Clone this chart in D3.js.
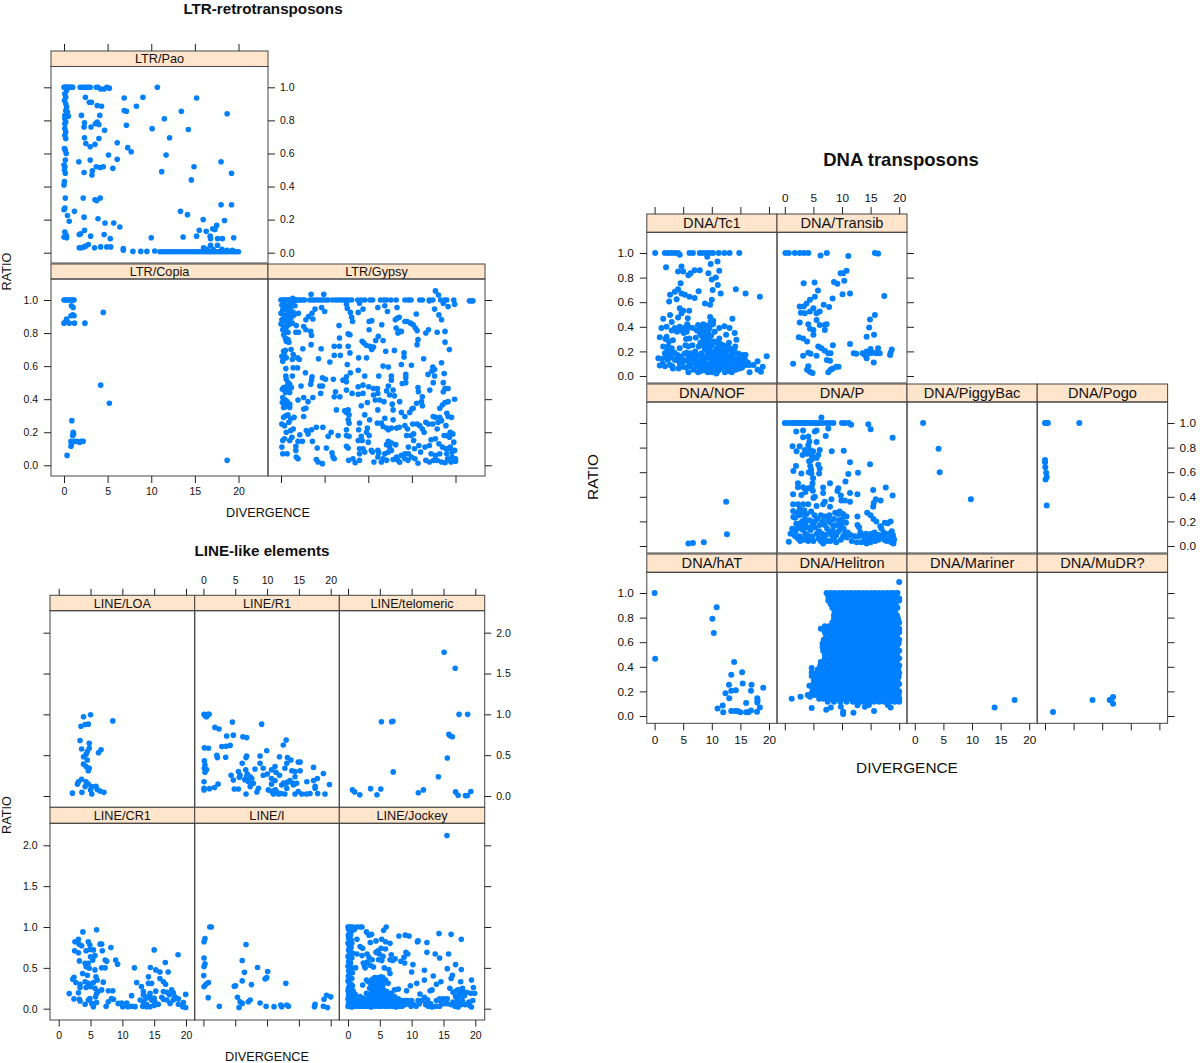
<!DOCTYPE html>
<html>
<head>
<meta charset="utf-8">
<title>Transposon divergence vs ratio</title>
<script src="https://cdnjs.cloudflare.com/ajax/libs/d3/7.8.5/d3.min.js"></script>
<style>
body { margin: 0; background: #fff; }
svg { display: block; }
text { font-family: "Liberation Sans", Arial, sans-serif; fill: #111; }
</style>
</head>
<body>
<div id="chart"></div>
<script>
// values, [divergence, ratio]
const ltrPao = [[0,1],[.1,1],[.2,1],[.3,1],[.4,1],[.5,1],[.6,1],[.7,1],[.9,1],[1,1],[1.85,1],[2.1,1],[2.4,1],[2.6,1],[2.8,1],[3,1],[3.7,1],[3.9,1],[4.2,.99],[4.6,.99],[4.9,1],[5.2,.995],
[.3,.98],[.1,.96],[.2,.94],[.05,.92],[.2,.9],[.3,.88],[.2,.86],[.4,.85],[.1,.83],[.5,.825],[.1,.81],[.2,.79],[.1,.78],[.1,.75],[.2,.73],[.1,.71],[.2,.69],[.05,.63],[.15,.62],[.25,.6],[.15,.56],[0,.53],[.1,.52],[.05,.5],[.15,.48],[.05,.43],[0,.41],[.15,.33],[.1,.27],[0,.26],
[2.45,.94],[2.9,.91],[3.15,.91],[3.8,.89],[4.3,.885],[2,.83],[4.1,.83],[2.35,.785],[2.3,.76],[3.1,.76],[3.6,.78],[3.8,.79],[4,.775],[4.65,.74],[2.35,.695],[4,.69],[2.5,.66],[3,.64],[3.55,.655],[6.1,.665],[5.1,.59],[6.1,.565],[1.7,.55],[3,.56],[3.25,.495],[3.7,.52],[4.15,.515],[4.5,.52],[5.6,.51],[2.3,.485],[3.2,.47],[2.2,.33],[3.55,.32],[3.75,.315],[4.15,.33],[1.2,.25],[.4,.225],[.6,.19],[2.3,.215],[3.9,.205],[4.7,.18],[5.7,.18],[6.4,.155],[.1,.125],[0,.095],[.3,.09],[.25,.105],[1.75,.11],[1.9,.115],[2.35,.135],[3.05,.1],[4.6,.11],[5.3,.085],
[1.75,.03],[2,.03],[2.3,.035],[2.5,.04],[2.8,.05],[3.5,.03],[4.2,.035],[4.9,.035],[5.35,.035],[6.8,.025],[6.8,.015],[7.9,.008],[8.8,.008],[9.5,.008],[10.4,.01],[11,.006],[11.3,.006],[11.6,.006],[11.9,.006],[12.2,.006],[12.5,.006],[12.8,.006],[13.1,.006],[13.4,.006],[13.7,.006],[14,.006],[14.3,.006],[14.6,.006],[14.9,.006],[15.2,.006],[15.5,.006],[15.8,.006],[16.1,.006],[16.4,.006],[16.7,.006],[17,.006],[17.3,.006],[17.6,.006],[17.9,.006],[18.2,.006],[18.5,.006],[18.8,.006],[19.1,.006],[19.4,.006],[19.7,.006],[20,.006],
[6.9,.935],[9.05,.94],[10.7,1],[15.2,.935],[6.9,.86],[7.15,.855],[8.3,.885],[13.45,.855],[18.7,.84],[11.5,.81],[7.15,.77],[10.1,.75],[14.25,.745],[12.1,.695],[7.3,.635],[7.7,.61],[11.7,.59],[18,.55],[14.9,.52],[11.2,.49],[19.2,.48],[14.6,.44],[18,.29],[19.2,.29],[13.35,.25],[14.15,.23],[15.95,.2],[18.4,.195],[17.5,.165],[17.3,.14],[17.05,.145],[15.5,.135],[16.3,.13],[10,.09],[13.65,.095],[15.2,.1],[16.75,.1],[16.8,.085],[17.6,.085],[18.15,.085],[19.45,.09],[16.8,.045],[17.6,.045],[16,.03],[16.4,.02],[17.1,.02],[18.1,.02],[18.7,.015],[19.3,.015]];

const ltrCopia = [[0,1],[.15,1],[.3,1],[.5,1],[.7,1],[.9,1],[1.05,1],[1.15,1],[.85,.965],[1.05,.955],[1,.91],[1.15,.905],[.8,.905],[0,.86],[.2,.87],[.3,.885],[.6,.86],[1.2,.86],[2.4,.86],[4.5,.925],[4.2,.485],[5.2,.375],[.9,.27],[1.05,.2],[1.1,.19],[1,.18],[.8,.145],[.85,.13],[.8,.115],[1.2,.145],[1.5,.145],[1.8,.14],[2,.145],[2.2,.145],[.35,.06],[18.7,.03]];

const ltrGypsy = [[0,1],[.15,1],[.3,1],[.45,1],[.6,1],[.75,1],[.9,1],[1.05,1],[1.2,1],[1.35,1.01],[1.5,1],[1.65,1],[1.8,1],[2,1],[2.2,1],[2.45,1],[2.7,1],[3.3,1],[3.6,1],[3.9,1],[4.2,1],[4.5,1],[4.8,1],[5.1,1],[5.4,1],[5.9,1],[6.3,1],[6.6,1],[6.9,1],[7.2,1],[7.5,1],[7.8,1],[8.1,1],[8.8,1],[9.2,1],[9.6,1],[10.2,1],[10.5,1],[11.4,1],[11.8,1],[12.1,1],[12.6,1],[13.2,1],[14.2,1],[14.6,1],[14.9,1],[15.9,1],[16.2,1],[17,1],[17.4,1],[18.3,1],[18.8,1],[19,1],[19.8,1],[21.6,.995],[21.8,.995],[22,.995],
[.1,.97],[.4,.975],[.7,.96],[1,.97],[1.3,.98],[1.6,.965],[.2,.94],[.5,.95],[.8,.93],[1.1,.945],[1.4,.925],[0,.92],[.3,.91],[.6,.9],[.9,.915],[1.2,.895],[1.5,.91],[.1,.88],[.4,.875],[.7,.865],[1,.885],[1.3,.86],[0,.855],[.3,.84],[.6,.835],[.9,.85],[.5,.815],[.2,.82],[.8,.805],[.3,.79],[.5,.77],[.6,.75],[.9,.745],[.8,.76],[.3,.69],[.5,.695],[1.15,.7],[1.4,.67],[.1,.66],[.4,.665],[.6,.65],[1.3,.64],[1.9,.65],[2.1,.64],[.2,.63],[.55,.585],[1.4,.59],[1.9,.59],[.55,.54],[.6,.52],[1.3,.54],[.8,.5],[.3,.47],[.6,.475],[1,.49],[1.2,.47],[.15,.46],[.5,.44],[.8,.455],[1,.44],[.2,.41],[.5,.395],[.15,.38],[.4,.37],[.7,.385],[1,.37],[.3,.35],[.6,.355],[1,.35],[.55,.3],[.3,.29],[.8,.305],[1.1,.28],[1.5,.29],[.9,.26],[.1,.25],[.4,.24],[.6,.2],[1.1,.21],[1.4,.22],[.2,.15],[.4,.16],[1,.15],[1.25,.17],[.1,.11],[.2,.07],[.7,.07],[1.7,.09],
[3.45,1.035],[4.9,1.035],[17.7,1.055],[18.05,1.03],[3.9,.945],[4.65,.955],[5,.93],[3.55,.92],[3.15,.9],[2.85,.88],[3.65,.885],[2,.92],[2.6,.84],[2.85,.82],[3.4,.81],[3.5,.785],[1.7,.805],[2,.805],[1.75,.845],[6.65,.845],[7.7,.795],[7.9,.79],[6.7,.77],[7.5,.975],[7.6,.95],[7.95,.925],[8.1,.895],[8.2,.87],[8.85,.925],[9.4,.945],[9,.98],[11.1,.955],[11.9,.965],[12.2,.93],[11.55,.85],[10.1,.87],[10.4,.875],[10.1,.82],[13.3,.955],[13.1,.88],[13.3,.89],[13.55,.895],[13.2,.83],[13.6,.81],[13.8,.81],[13.4,.8],[14.2,.87],[14.45,.87],[14.85,.86],[15.15,.85],[15.4,.83],[15.6,.815],[15.5,.915],[17,.995],[17.6,.945],[18.1,.91],[18.4,.88],[18.6,.98],[19.15,.96],[19.9,.975],[16.9,.82],[16.6,.8],[17.9,.805],[18.8,.81],[18.8,.745],[19.3,.7],[18.4,.62],[18.7,.555],[17.4,.595],[18.6,.5],
[15.7,.76],[15.6,.73],[14.1,.68],[14.1,.655],[16.35,.645],[13,.695],[12,.69],[9.3,.75],[9.5,.74],[9.8,.725],[10.2,.72],[10.4,.7],[10.6,.715],[10.85,.755],[11.15,.78],[11.7,.755],[6.1,.72],[6.7,.72],[7.7,.72],[7.9,.68],[6.1,.665],[6.8,.665],[5.6,.625],[8.9,.65],[9.8,.65],[7.6,.61],[2.5,.705],[4.6,.705],[3.45,.73],[4.3,.645],[13.8,.61],[14.95,.605],[11.7,.6],[12.3,.595],
[2.8,.56],[3.55,.535],[3.5,.515],[3.4,.49],[4.75,.53],[5.1,.52],[6,.52],[7.5,.535],[7.1,.515],[7.5,.505],[7.95,.56],[8.85,.575],[9.6,.54],[11.2,.54],[12.65,.54],[12.65,.515],[14.3,.55],[14.3,.53],[13.9,.495],[14.3,.5],[16.85,.55],[17.3,.57],[17.6,.58],[17.6,.54],[17.45,.5],[2.3,.48],[4.45,.48],[4.75,.48],[4.55,.435],[6.25,.445],[6.1,.415],[6.75,.415],[7.5,.455],[8.15,.435],[8.85,.475],[9.4,.485],[8.85,.43],[9.4,.435],[10.05,.475],[10.6,.465],[11.05,.465],[10.6,.425],[11.1,.435],[10.8,.395],[11.3,.395],[11.8,.385],[12.3,.48],[12.1,.45],[12.45,.425],[12.85,.455],[13,.42],[15.7,.47],[15.75,.445],[17.05,.455],[18.6,.445],[19.15,.465],[18.8,.465],[19.9,.4],
[2.6,.41],[1.95,.395],[3.1,.385],[3.65,.41],[9.2,.36],[9.9,.38],[6.35,.335],[7.3,.33],[7.7,.335],[7.5,.32],[7.8,.305],[2.6,.34],[2.85,.345],[2.6,.295],[9.6,.305],[11.1,.335],[12.75,.37],[13.6,.385],[12.85,.335],[13.8,.32],[14.2,.295],[14.75,.32],[15.15,.345],[15.55,.375],[15,.34],[16.2,.415],[16.1,.385],[16.2,.36],[18.2,.345],[18.5,.365],[18.8,.38],[19.15,.385],[19,.315],[19.15,.295],[19.55,.29],[17.45,.295],[18.2,.29],
[7.7,.275],[7.8,.255],[7.5,.215],[7.5,.18],[7.8,.175],[7.5,.115],[7.7,.105],[2.9,.21],[2.15,.185],[1.95,.145],[2.45,.145],[1.7,.115],[3.5,.215],[4.05,.23],[4.8,.23],[3.1,.19],[3.6,.145],[4.15,.105],[5.2,.105],[5.4,.175],[5.75,.2],[6.55,.18],[5.85,.075],[5.95,.05],[4.05,.035],[4.25,.02],[4.75,.01],[6.1,.04],[1.75,.05],[1.95,.04],[7.75,.03],[8.25,.04],[8.5,.015],[9,.03],[9,.255],[8.9,.215],[9.2,.175],[8.85,.15],[9.3,.15],[9,.1],[9.4,.1],[9,.07],[9.6,.08],[9.9,.225],[9.8,.2],[10.1,.18],[10,.14],[10.35,.09],[10.5,.08],[10.15,.275],[10.65,.02],[11.1,.09],[11.2,.075],[11.1,.05],[11.5,.02],[11.7,.04],[12.1,.03],[11.05,.255],[11.5,.255],[11.9,.285],[11.7,.235],[12.1,.225],[12.3,.215],[12.65,.225],[12.85,.275],[13.25,.225],[13.55,.23],[12.3,.145],[12.1,.125],[12.65,.135],[13.15,.125],[12.45,.11],[12.3,.08],[12.65,.09],[11.9,.07],[12.85,.035],[13.25,.05],[13.4,.03],[13.6,.018],[13.8,.06],[14.2,.07],[14.6,.07],[14.2,.04],[14.55,.03],[14.95,.05],[15.35,.04],[15.7,.012],
[14.2,.24],[14.5,.22],[14.9,.18],[14.4,.18],[15.2,.19],[15.6,.25],[15.1,.25],[15.2,.15],[14.6,.11],[15.3,.1],[15.9,.24],[16.2,.22],[16.6,.26],[16.9,.25],[16.4,.2],[15.8,.12],[16,.08],[16.5,.11],[17,.12],[17.2,.155],[17.7,.16],[17.9,.22],[17.4,.25],[18,.26],[17.7,.29],[18.4,.27],[18.9,.24],[19.4,.2],[19.7,.19],[18.7,.18],[19,.18],[19.3,.17],[19.8,.14],[18.1,.13],[18.5,.11],[18.9,.1],[19.1,.1],[19.4,.11],[19.9,.09],[18.2,.07],[17.7,.06],[17.2,.07],[16.6,.03],[17,.02],[17.5,.03],[17.9,.03],[18.4,.02],[18.8,.015],[19.1,.04],[19.3,.03],[19.6,.05],[20,.04],[20,.025],[19.5,.02],[19,.07],[19.6,.08]];

const dnaTc1 = [[.1,1],[1.8,1],[2.4,1],[3,1],[3.55,1],[4.1,1],[4.4,.985],[6.1,1],[6.7,1],[7.9,1],[8.4,1],[9,1],[9.6,1],[10.2,1],[11.2,1],[12.2,1],[13.1,1],[14.8,1],[9.2,.97],[11,.93],[9.8,.91],[2,.885],[4.1,.85],[4.7,.89],[5,.85],[5.9,.82],[6.3,.835],[7,.86],[7.9,.86],[9.4,.835],[11.3,.855],[10,.785],[10.7,.8],[11.05,.74],[4.55,.755],[10.15,.7],[14.2,.705],[15.9,.67],[18.4,.645],[11.55,.67],[2.7,.66],[3.55,.685],[4.1,.705],[4.7,.67],[3.85,.625],[2.55,.605],[5.3,.66],[6.1,.645],[7,.635],[7.7,.69],[10,.62],[9.7,.58],[8.8,.59],[4.4,.55],[6.05,.53],[5,.53],[4.7,.51],[5.8,.47],[4.1,.475],[2.7,.495],[1.5,.465],[3,.44],[9.7,.48],[10.25,.45],[13.6,.465],
[1.2,.39],[2.1,.4],[3,.37],[3.55,.39],[4.4,.4],[5.3,.395],[6.1,.395],[6.7,.39],[7.6,.415],[8.5,.42],[9.4,.37],[10.5,.36],[11.3,.39],[12.2,.405],[13.1,.39],[14,.35],[.9,.315],[2.1,.32],[1.5,.24],[2.4,.24],[3,.225],[4.4,.225],[6.1,.305],[5.9,.24],[7.9,.35],[8.8,.32],[9.6,.295],[11.3,.305],[12.5,.335],[14.3,.295],[.65,.145],[.9,.085],[1.8,.185],[2.7,.185],[1.8,.08],[2.7,.09],[3.55,.13],[4.4,.1],[5,.075],[5.9,.03],[6.8,.05],[7.6,.03],[6.4,.185],[7.3,.16],[8.2,.185],[9,.145],[9.6,.1],[10.2,.05],[10.8,.02],[11.4,.13],[12,.1],[12.9,.155],[13.8,.185],[13.5,.03],[14.6,.1],[15.5,.17],[15.8,.13],[16.6,.09],[16.6,.03],[18,.12],[19.6,.16],[18.6,.035],[18.9,.075],[15.3,.07],
[8,.27],[8.4,.25],[8.8,.22],[9.2,.26],[9.6,.23],[10,.25],[10.4,.2],[10.8,.22],[11.2,.24],[11.6,.21],[12,.18],[12.4,.2],[12.8,.24],[13.2,.21],[13.6,.16],[14,.2],[14.4,.14],[14.8,.1],[8,.12],[8.4,.09],[8.8,.13],[9.2,.17],[9.6,.15],[10,.12],[10.4,.09],[10.8,.14],[11.2,.08],[11.6,.06],[12,.14],[12.4,.08],[12.8,.11],[13.2,.07],[13.6,.1],[14,.08],[7,.11],[7.4,.08],[7.8,.07],[8.6,.05],[9.1,.04],[9.5,.06],[10.1,.03],[10.6,.05],[11.1,.04],[12.3,.03],[12.9,.04],[14.2,.05],[14.9,.06],[15.4,.1],[16,.09],[5.2,.18],[5.6,.13],[6,.11],[6.6,.14],[3.5,.19],[4,.17],[2.3,.13],[3.1,.08],[4.7,.14],[5.4,.25],[3.2,.29],[3.9,.36],[5.1,.35],[5.6,.36],[7.1,.2],[7.7,.24],[8.2,.33],[9,.41],[9.9,.33],[10.2,.42],
[8.1,.04],[8.8,.08],[9.3,.03],[9.7,.08],[10.3,.13],[10.6,.1],[11,.17],[11.4,.19],[11.8,.16],[12.2,.12],[12.6,.06],[13,.13],[13.4,.18],[13.8,.13],[14.1,.24],[14.7,.18],[15.1,.14],[15.9,.17],[16.3,.11],[17.3,.09],[18,.05],[10.1,.17],[9.1,.21],[9.5,.19],[8.5,.15],[8,.17],[7.5,.12],[7,.15],[6.5,.17],[6,.16],[5.6,.19],[5,.12],[4.3,.16],[3.9,.13],[3,.15],[2.2,.21],[2.5,.28],[1.9,.3],[2,.15],[1.3,.14],[1.4,.1],[8.9,.26],[8.5,.3],[9.1,.34],[9.3,.3],[9.6,.39],[10.4,.28],[10.9,.27],[11.5,.26],[12,.25],[12.5,.23],[13,.27],[13.5,.22],[7.2,.31],[7.4,.37],[6.6,.25],[5.5,.3],[5.7,.42],[4.6,.37],[9.9,.06],[10.4,.04],[10.9,.06],[11.3,.11],[11.7,.09],[12.3,.17],[10.7,.19],[9.8,.2],[9,.09],[8.2,.13],[7.8,.1],[6.3,.08],[5.5,.07],[4.2,.06],[3.2,.06],[2.5,.15],[8.6,.37],[9.8,.44],[8.1,.39]];

const dnaTransib = [[.1,1],[.7,1],[1.75,1],[2.6,1],[3.35,1],[4.1,1],[6.25,.98],[7.35,1],[11.1,.975],[15.75,1],[16.3,.995],[3.3,.755],[5.2,.76],[5.8,.695],[5.25,.645],[4.4,.62],[3.8,.59],[2.6,.565],[3.3,.565],[2.8,.515],[3.5,.51],[4.4,.525],[5,.55],[5.55,.51],[6.1,.525],[6.8,.58],[7.75,.56],[8.35,.63],[8.6,.765],[9.2,.75],[9.75,.835],[10.2,.835],[10.8,.855],[10.4,.775],[10.1,.665],[11.4,.67],[17.4,.65],[2.6,.435],[4.1,.42],[5.55,.455],[4.4,.385],[5,.375],[5,.335],[6.1,.415],[7,.415],[7.3,.42],[7,.375],[2.45,.315],[3.2,.305],[3.9,.28],[15.75,.495],[14.9,.46],[14.75,.395],[15.6,.335],[14.3,.32],[3.2,.165],[4.1,.19],[4.5,.18],[5.55,.165],[5.85,.24],[6.4,.225],[7,.205],[7.6,.185],[8,.185],[8.4,.25],[7.35,.13],[7.9,.125],[11.4,.26],[1.45,.1],[4.1,.08],[3.9,.05],[4.4,.035],[4.85,.025],[7.6,.03],[8,.05],[8.4,.06],[9,.075],[9.4,.075],[12.05,.185],[12.5,.18],[13.6,.185],[14,.17],[14.3,.145],[14.9,.185],[15.45,.19],[16.05,.185],[16.3,.225],[16.6,.185],[15.55,.11],[18.4,.17],[18.5,.19],[18.7,.215],[14.3,.2],[15,.22]];

const dnaNOF = [[5.9,.02],[6.7,.025],[8.6,.03],[12.65,.095],[12.5,.36]];

const dnaP = [[0,1],[.6,1],[1.2,1],[1.6,1],[2,1],[2.4,1],[2.8,1],[3.2,1],[3.6,1],[4,1],[4.4,1],[4.8,1],[5.2,1],[5.6,1],[6,1],[6.6,1],[7.3,1],[7.9,1],[8.5,1],[10,1],[10.5,1],[11.2,1],[11.6,.985],[6.4,1.045],[14.6,.99],[15,.95],[18.85,.88],[7.15,.895],[5.55,.845],[8.2,.77],[10.3,.775],[2,.93],[3.2,.94],[3.2,.885],[4.1,.89],[5.25,.93],[5.55,.94],[7.6,.955],[1.35,.81],[2.05,.77],[2.6,.81],[3.1,.74],[4.1,.82],[4.4,.78],[4.95,.77],[6.1,.78],[5.85,.74],[5.55,.715],[4.25,.69],[4.45,.65],[5.85,.66],[6.1,.63],[6,.59],[11.4,.68],[14.9,.665],[1.95,.65],[1.5,.61],[2.9,.59],[4.65,.59],[11.1,.585],[12.8,.595],[4.95,.55],[4.85,.51],[10.6,.525],[7.9,.51],[2.3,.51],[2.3,.477],[3.2,.477],[4.1,.47],[4.7,.48],[6.7,.475],[9.35,.47],[9.2,.447],[15.45,.455],[17.65,.475],[1.45,.42],[2.9,.415],[5.25,.4],[5,.39],[6.7,.43],[11.4,.43],[9.8,.41],[12.7,.42],[18.85,.41],[15.9,.38],[16.75,.37],[15.55,.35],[11.4,.36],[10.5,.37],[9.9,.37],[7,.36],[8.15,.38],[7.9,.32],[6.7,.34],[5.55,.325],[4.1,.34],[1.45,.34],[2.3,.34],[3.2,.34],[1.45,.285],[15.45,.32],
[4.3,.85],[4.7,.74],[5.1,.72],[4.6,.7],[3.5,.78],[3.9,.75],[4.6,.62],[4.2,.6],[4.9,.45],[3.6,.44],
[2.6,.3],[3.4,.29],[3.8,.26],[2.5,.25],[1.5,.235],[4.6,.28],[5.2,.25],[6.3,.25],[6.8,.24],[7.8,.25],[8.8,.27],[9.6,.28],[10.2,.26],[10.8,.24],[12.7,.24],[14.4,.27],[15,.25],[15.5,.22],[16,.2],[3,.2],[3.6,.18],[4.3,.21],[2,.18],[1.3,.14],[1,.1],[.7,.035],[1.9,.12],[2.6,.08],[2.7,.04],[3.2,.13],[3.9,.09],[4.5,.13],[4.9,.17],[5.3,.15],[5.6,.1],[5.9,.06],[6.3,.04],[6.7,.02],[7,.17],[7.4,.14],[7.8,.12],[8.2,.09],[8.6,.06],[9,.03],[9.5,.21],[9.9,.18],[10.3,.14],[10.7,.19],[11,.11],[9.4,.12],[10.2,.08],[10.8,.07],[11.5,.09],[11.7,.04],[12.3,.08],[12.6,.03],[12.7,.17],[13,.15],[13,.08],[13.6,.09],[14,.05],[14.7,.09],[15,.03],[15.4,.07],[15.7,.11],[16,.09],[16.4,.05],[16.9,.14],[17.5,.19],[18,.185],[18.5,.2],[17.6,.09],[17.8,.04],[18.2,.1],[18.7,.12],[18.9,.09],[19,.02],[19.1,.05],[18.6,.03],[16.7,.16],[17.3,.11],[3,.06],[4.1,.04],[5,.04],[6,.12],[8.5,.16],[7.6,.21],[5.7,.22],[6.8,.07],[7.4,.04],[8,.04],[9.8,.05],[13.4,.03],[14.3,.02],[15.1,.1],[3.6,.1],[2.2,.15],
[1.8,.23],[2.2,.27],[3,.26],[3.5,.22],[2.5,.18],[2.9,.14],[3.4,.17],[4,.15],[4.7,.2],[5.2,.2],[6.1,.17],[6.6,.2],[7.2,.24],[8,.19],[8.6,.22],[9,.17],[9.3,.26],[10,.22],[10.5,.1],[9.7,.14],[9,.09],[8.4,.12],[7.2,.09],[6.5,.1],[4.8,.08],[4.4,.06],[3.4,.05],[1.8,.08],[2.3,.06],[13.2,.11],[14.2,.1],[14.6,.05],[15.8,.04],[16.4,.09],[17,.08],[17.4,.05],[18.4,.07],[19,.06]];

const dnaPiggyBac = [[1.45,1],[4.15,.79],[4.35,.6],[9.8,.38]];
const dnaPogo = [[0,1],[.15,1],[.3,1],[.5,1],[6,1],[0,.7],[0,.68],[.05,.64],[.2,.595],[.3,.56],[.1,.54],[.3,.33]];

const dnaHAT = [[0,1],[.1,.465],[10.85,.885],[10.1,.79],[10.35,.675],[13.9,.44],[15.3,.355],[13.4,.335],[15.4,.265],[13,.255],[16.95,.255],[19,.23],[14.2,.21],[13.4,.205],[16.85,.205],[12.4,.185],[13.05,.145],[17.95,.145],[18,.125],[17.95,.11],[16,.105],[11.9,.085],[11,.06],[18.4,.07],[12,.03],[13.4,.04],[14.1,.04],[14.5,.04],[15,.03],[16,.03],[16.4,.03],[16.85,.045],[17.9,.035]];

// Helitron is nearly solid, read as rows: ratio, then divergences along that row
const dnaHelitronRows = [
[1,[7.3,8,8.7,9.4,10.1,10.8,11.5,12.2,12.9,13.6,14.3,15,15.7,16.4,17.1,17.8,18.5,19.1,19.7]],
[.97,[7.6,8.3,9,9.7,10.4,11.1,11.8,12.5,13.2,13.9,14.6,15.3,16,16.7,17.4,18.1,18.8,19.4]],
[.94,[7.6,8.6,9.3,10,10.7,11.4,12.1,12.8,13.5,14.2,14.9,15.6,16.3,17,17.7,18.4,19,20]],
[.91,[8,9,9.7,10.4,11.1,11.8,12.5,13.2,13.9,14.6,15.3,16,16.7,17.4,18.1,18.8,19.4]],
[.88,[8.3,9.3,10,10.7,11.4,12.1,12.8,13.5,14.2,14.9,15.6,16.3,17,17.7,18.4,19.1,19.7]],
[.85,[8.7,9.6,10.3,11,11.7,12.4,13.1,13.8,14.5,15.2,15.9,16.6,17.3,18,18.7,19.3]],
[.82,[8.6,9.3,10,10.7,11.4,12.1,12.8,13.5,14.2,14.9,15.6,16.3,17,17.7,18.4,19,19.6]],
[.79,[8.6,9.6,10.3,11,11.7,12.4,13.1,13.8,14.5,15.2,15.9,16.6,17.3,18,18.7,19.3,19.8]],
[.76,[8.3,9,9.7,10.4,11.1,11.8,12.5,13.2,13.9,14.6,15.3,16,16.7,17.4,18.1,18.8,19.5,20]],
[.73,[7,7.7,8.4,9.1,9.8,10.5,11.2,11.9,12.6,13.3,14,14.7,15.4,16.1,16.8,17.5,18.2,18.9,19.6]],
[.71,[6.3,7,7.7,8.4,9.1,9.8,10.5,11.2,11.9,12.6,13.3,14,14.7,15.4,16.1,16.8,17.5,18.2,18.9,19.6,20]],
[.68,[7,7.4,8.1,8.8,9.5,10.2,10.9,11.6,12.3,13,13.7,14.4,15.1,15.8,16.5,17.2,17.9,18.6,19.3,20]],
[.65,[7.2,7.7,8.4,9.1,9.8,10.5,11.2,11.9,12.6,13.3,14,14.7,15.4,16.1,16.8,17.5,18.2,18.9,19.6]],
[.62,[6.8,7.4,8.1,8.8,9.5,10.2,10.9,11.6,12.3,13,13.7,14.4,15.1,15.8,16.5,17.2,17.9,18.6,19.3,20]],
[.59,[6.6,7.3,8,8.7,9.4,10.1,10.8,11.5,12.2,12.9,13.6,14.3,15,15.7,16.4,17.1,17.8,18.5,19.2,19.9]],
[.56,[6.6,7,7.7,8.4,9.1,9.8,10.5,11.2,11.9,12.6,13.3,14,14.7,15.4,16.1,16.8,17.5,18.2,18.9,19.6]],
[.53,[6.7,7.4,8.1,8.8,9.5,10.2,10.9,11.6,12.3,13,13.7,14.4,15.1,15.8,16.5,17.2,17.9,18.6,19.3,20]],
[.5,[7,7.7,8.4,9.1,9.8,10.5,11.2,11.9,12.6,13.3,14,14.7,15.4,16.1,16.8,17.5,18.2,18.9,19.6]],
[.47,[7,7.4,8.1,8.8,9.5,10.2,10.9,11.6,12.3,13,13.7,14.4,15.1,15.8,16.5,17.2,17.9,18.6,19.3,20]],
[.44,[6.3,7,7.7,8.4,9.1,9.8,10.5,11.2,11.9,12.6,13.3,14,14.7,15.4,16.1,16.8,17.5,18.2,18.9,19.6]],
[.41,[6.2,6.8,7.4,8.1,8.8,9.5,10.2,10.9,11.6,12.3,13,13.7,14.4,15.1,15.8,16.5,17.2,17.9,18.6,19.3,20]],
[.38,[5.8,6.5,7.2,7.9,8.6,9.3,10,10.7,11.4,12.1,12.8,13.5,14.2,14.9,15.6,16.3,17,17.7,18.4,19.1,19.8]],
[.35,[5.5,6.2,6.9,7.6,8.3,9,9.7,10.4,11.1,11.8,12.5,13.2,13.9,14.6,15.3,16,16.7,17.4,18.1,18.8,19.5,20]],
[.32,[5.3,5.9,6.6,7.3,8,8.7,9.4,10.1,10.8,11.5,12.2,12.9,13.6,14.3,15,15.7,16.4,17.1,17.8,18.5,19.2,19.9]],
[.29,[5.1,5.7,6.4,7.1,7.8,8.5,9.2,9.9,10.6,11.3,12,12.7,13.4,14.1,14.8,15.5,16.2,16.9,17.6,18.3,19,19.7]],
[.26,[5,5.5,6.2,6.9,7.6,8.3,9,9.7,10.4,11.1,11.8,12.5,13.2,13.9,14.6,15.3,16,16.7,17.4,18.1,18.8,19.5,20]],
[.23,[4.9,5.6,6.3,7,7.7,8.4,9.1,9.8,10.5,11.2,11.9,12.6,13.3,14,14.7,15.4,16.1,16.8,17.5,18.2,18.9,19.6]],
[.2,[4.8,5.3,6,6.7,7.4,8.1,8.8,9.5,10.2,10.9,11.6,12.3,13,13.7,14.4,15.1,15.8,16.5,17.2,17.9,18.6,19.3,20]],
[.17,[4.5,5.2,5.9,6.6,7.3,8,8.7,9.4,10.1,10.8,11.5,12.2,12.9,13.6,14.3,15,15.7,16.4,17.1,17.8,18.5,19.2,19.9]],
[.14,[6,6.7,7.4,8.1,8.8,9.5,10.2,10.9,11.6,12.3,13,13.7,14.4,15.1,15.8,16.5,17.2,17.9,18.6,19.3,20]],
[.115,[7.5,8.6,9.7,10.8,11.9,12.6,13.3,14,14.9,15.6,16.5,17.4,18.3,19.2,20]]
];
const dnaHelitronLoose = [[1.2,.14],[2.75,.157],[4.3,.245],[4.7,.39],[4.7,.355],[4.7,.325],[4,.17],[4.4,.157],[4.7,.065],[7.25,.05],[8.05,.07],[9.8,.075],[10.2,.035],[10.2,.017],[12,.027],[12.7,.087],[15.6,.04],[14,.075],[14.7,.09],[18,.09],[18.5,.07],[20,1.09],[20,.955]];
const dnaHelitron = dnaHelitronRows.flatMap(([r, xs]) => xs.map(x => [x, r])).concat(dnaHelitronLoose);

const dnaMariner = [[13.95,.07],[17.45,.13]];
const dnaMuDR = [[1.4,.033],[8.3,.13],[11.3,.13],[11.9,.155],[11.9,.1],[11.6,.135]];

const lineLOA = [[5,.995],[3.9,.97],[8.5,.92],[3.5,.855],[4.15,.875],[4.65,.88],[3.35,.68],[4.8,.645],[4.8,.585],[3.6,.575],[4.5,.545],[6.65,.565],[6.25,.53],[4.3,.51],[3.9,.48],[4.5,.44],[3.9,.39],[4.3,.36],[4.8,.34],[4.65,.31],[3.6,.205],[3.1,.175],[2.95,.145],[4.3,.175],[4.65,.145],[4.15,.115],[5.2,.115],[5.85,.12],[6.05,.08],[5,.075],[6.5,.06],[7.1,.045],[2.15,.035],[3.65,.045],[5.2,.025]];

const lineR1 = [[.1,1],[.3,.98],[.5,.97],[.7,1],[.9,1],[4.55,.905],[9.15,.88],[1.8,.84],[2.45,.82],[3.65,.735],[4.7,.745],[6.2,.725],[6.8,.715],[13,.685],[12.55,.625],[2.9,.605],[3.55,.61],[4.2,.62],[.15,.59],[.8,.585],[9.95,.555],[2.1,.5],[2.2,.47],[3.5,.475],[6.8,.49],[6.7,.47],[8.9,.49],[11.95,.48],[13.2,.47],[13.75,.44],[14.9,.415],[15.2,.415],[6.1,.4],[8.9,.4],[13.1,.4],[.15,.43],[.25,.38],[.15,.34],[.5,.325],[.25,.29],[17.3,.35],[18.85,.275],[9.4,.34],[11.25,.36],[12.8,.34],[13.9,.31],[14.4,.3],[15.2,.31],[8.1,.33],[6.65,.32],[5.5,.3],[4.35,.255],[4.7,.195],[5.75,.255],[5.65,.23],[6.8,.235],[7.35,.235],[7.6,.215],[7.05,.175],[7.85,.155],[7.35,.115],[9.4,.255],[10.05,.27],[10.7,.32],[11.4,.29],[11.95,.255],[10.7,.215],[11.25,.19],[10.7,.145],[12.3,.135],[13,.155],[13.6,.19],[14.4,.235],[14.65,.155],[14.15,.135],[16.25,.175],[17.3,.19],[17.9,.215],[17.55,.12],[17.55,.095],[19.8,.14],[.1,.175],[.1,.095],[.1,.075],[.95,.09],[1.75,.105],[2.3,.145],[4.85,.085],[5.5,.085],[6.7,.025],[8.4,.05],[8.65,.095],[10.2,.075],[10.75,.055],[11,.025],[11.3,.075],[11.8,.025],[12.8,.025],[13.1,.095],[14.4,.025],[14.9,.055],[15.45,.025],[16.2,.025],[16.75,.03],[17.95,.03],[19.1,.025],[6.5,.2],[6.9,.27],[7.2,.19],[12.6,.16],[13.2,.17],[14,.16],[11,.06],[11.5,.05],[12.2,.03]];

const lineTelomeric = [[15.1,1.76],[16.85,1.565],[17.45,1],[18.8,1],[5.25,.91],[6.85,.91],[7.05,.915],[15.85,.755],[16,.74],[16.4,.725],[15.6,.465],[7.1,.295],[14.2,.235],[.7,.075],[1.05,.05],[1.85,.015],[3.55,.09],[4.55,.015],[5.15,.085],[11.05,.04],[11.85,.075],[16.9,.05],[17.3,.01],[18.45,.005],[18.75,.005],[19.3,.055]];

const lineCR1 = [[3.8,.94],[5.95,.965],[3.1,.85],[2.55,.82],[3.2,.79],[3.6,.77],[4.65,.82],[4.9,.78],[6.5,.79],[6.75,.79],[8.2,.75],[2.5,.71],[3.1,.685],[4.3,.71],[4.9,.725],[5.45,.72],[6.85,.71],[5,.635],[5.7,.65],[5.35,.595],[3.25,.585],[7.3,.595],[7.55,.58],[8.95,.595],[9.25,.545],[6.75,.5],[7.3,.5],[11.9,.5],[4.15,.555],[4.65,.555],[4.3,.515],[4.8,.495],[5.7,.475],[3.75,.43],[4.5,.41],[2.4,.385],[2.2,.36],[5.85,.39],[6.05,.35],[7,.325],[2.7,.32],[3.35,.3],[4.15,.33],[4.65,.31],[5.45,.32],[4.3,.26],[5,.27],[5.7,.25],[3.35,.26],[6.75,.23],[6.2,.21],[7.8,.22],[8.5,.22],[3.1,.195],[1.65,.185],[5.95,.185],[5.8,.145],[2.4,.12],[3.25,.115],[3.35,.095],[4.65,.105],[4.9,.125],[4.15,.055],[5.2,.065],[5.95,.075],[5.45,.025],[8.3,.125],[8.6,.115],[7.8,.085],[7.45,.03],[9.35,.065],[9.9,.07],[10.05,.025],[10.7,.07],[10.85,.025],[11.45,.16],[11.45,.03],[12,.025],[12.25,.32],[13,.27],[14.1,.39],[14.4,.505],[15,.72],[15.25,.475],[15.9,.45],[16.75,.565],[17.2,.45],[18.75,.66],[15.9,.37],[16.45,.33],[16.8,.3],[14.1,.31],[14.6,.31],[15.25,.215],[13.3,.21],[13.6,.15],[14.35,.19],[16.45,.21],[17.75,.23],[18,.195],[18.25,.145],[19.95,.175],[12.8,.105],[13.3,.085],[13.8,.055],[13.8,.025],[14.35,.025],[14.6,.105],[15.1,.085],[15.65,.055],[16.45,.115],[17,.105],[17.5,.065],[18,.105],[18.8,.12],[18.8,.055],[19.6,.075],[19.5,.025],[19.95,.015],[13.3,.17],[13.8,.13],[14.35,.14],[15,.13],[13.2,.03],[15,.04],[16.2,.14],[17.4,.17],[17,.2]];

const lineI = [[1,1],[1.25,1],[.25,.86],[.1,.82],[.1,.62],[.25,.55],[.1,.515],[.05,.405],[.8,.32],[.4,.3],[.1,.27],[.75,.135],[2.5,.03],[4.85,.275],[5.05,.28],[6.1,.59],[6.7,.785],[8.5,.505],[10.1,.455],[9.95,.38],[9.7,.365],[6.45,.445],[6.1,.34],[7.55,.295],[12.95,.31],[5.35,.14],[5.75,.085],[6.1,.065],[5.6,.015],[7.35,.105],[7.05,.085],[8.9,.07],[9.85,.03],[11.1,.025],[12.15,.045],[12.3,.025],[13.1,.045],[13.35,.03],[17.55,.055],[17.45,.025],[18.85,.03],[19.5,.015],[18.95,.115],[19.35,.165],[20,.145]];

const lineJockey = [[15.55,2.12],[0,1],[.2,1],[.5,1],[.8,1],[1,.97],[1.4,1],[1.9,1],[2.2,1],[.1,.97],[.3,.94],[.05,.9],[.4,.9],[.6,.95],[.1,.86],[.3,.82],[0,.8],[.2,.77],[.5,.75],[.1,.72],[.4,.68],[.7,.68],[0,.64],[.3,.62],[.1,.58],[.4,.56],[0,.52],[.3,.5],[.6,.5],[1.2,.5],[.1,.46],[.4,.44],[.05,.4],[.3,.38],[.6,.37],[0,.34],[.2,.31],[.5,.3],[.1,.26],[.4,.25],[0,.22],[.3,.2],[.6,.2],[.1,.17],[.4,.15],[.8,.15],[0,.12],[.3,.1],[.6,.11],[.9,.12],[.1,.07],[.4,.06],[.7,.06],[1,.08],[1.2,.11],[0,.03],[.3,.03],[.6,.02],[.9,.03],[1.2,.03],[1.5,.06],[1.7,.03],[2,.05],[2.3,.03],[2.6,.08],[1.4,.85],[1.9,.76],[2.3,.74],[2.2,.65],[1.4,.67],[2.4,.56],[2.6,.52],[2.3,.29],[2.9,.35],[1.9,.15],[2.4,.13],[2.9,.94],[3.3,.9],[3.7,.91],[3.5,.81],[4.4,.83],[5.3,.85],[5.6,.96],[6,1],[5.9,.82],[6.6,.8],[5.2,.74],[4.7,.71],[4.4,.69],[4.9,.67],[5.9,.73],[5.5,.64],[6.8,.66],[6.6,.6],[7,.59],[7.4,.61],[5.3,.59],[4.8,.6],[3,.67],[3.3,.63],[3.8,.6],[3.5,.53],[3,.57],[2.7,.5],[4,.51],[5.7,.5],[6.4,.48],[6.6,.43],[5.2,.39],[4.8,.38],[4.2,.38],[3.8,.36],[3.2,.33],[3.6,.29],[4.2,.29],[4.8,.3],[5.3,.34],[5.9,.35],[6.3,.31],[3.4,.25],[3.9,.22],[4.4,.24],[5,.22],[5.6,.23],[6.1,.21],[6.8,.19],[7.3,.23],[7.9,.24],[2.9,.19],[3.3,.15],[3.9,.17],[4.5,.18],[5.2,.16],[5.7,.14],[6.4,.15],[6.8,.12],[7.3,.15],[7.9,.12],[8.2,.08],[2.8,.1],[3.4,.08],[3.9,.11],[4.4,.09],[4.9,.1],[5.3,.08],[5.9,.09],[6.4,.06],[6.9,.07],[3.1,.03],[3.6,.02],[4.1,.03],[4.7,.03],[5.2,.03],[5.8,.03],[6.3,.03],[6.9,.03],[7.5,.02],[8,.03],[8.5,.03],[9,.05],[9.4,.1],[9.2,.22],[10,.1],[10.3,.05],[9.9,.03],[10.7,.03],[11.2,.06],[11.6,.1],[11.3,.18],[10.8,.31],[12,.35],[9.8,.28],[10,.45],[10.2,.54],[12,.47],[13.4,.4],[13.9,.3],[14.6,.33],[12.4,.69],[13.7,.67],[14.4,.62],[15.8,.67],[15.6,.49],[16.2,.37],[16.4,.41],[16.9,.54],[17.7,.33],[17.8,.48],[19.4,.35],[19.7,.26],[19.9,.19],[19.3,.19],[18.7,.2],[8,.89],[9,.9],[9.6,.89],[11,.83],[10.9,.82],[12.4,.81],[14.3,.92],[16.2,.91],[17.8,.85],[8.3,.58],[8.8,.63],[9.1,.69],[9.4,.67],[8.9,.56],[12,.14],[12.5,.11],[12.9,.22],[13.2,.23],[13.9,.1],[14.4,.12],[15,.12],[15.6,.12],[16,.25],[16.5,.2],[17,.22],[17.3,.23],[17.7,.23],[18,.25],[17.2,.12],[17.8,.13],[18.3,.16],[12.2,.05],[12.6,.03],[13.2,.02],[13.8,.03],[14.4,.03],[15,.06],[15.6,.06],[16.2,.05],[16.8,.03],[17.3,.02],[17.8,.05],[18.4,.05],[19.1,.04],[19.4,.02],[19.6,.1],
[.2,.88],[.5,.84],[.6,.8],[.2,.7],[.6,.62],[.2,.55],[.7,.44],[.2,.35],[.7,.28],[.3,.26],[.8,.22],[1.1,.18],[.2,.15],[.5,.12],[1.3,.15],[1.6,.12],[.2,.05],[.5,.04],[.8,.08],[1.1,.05],[1.4,.09],[1.8,.08],[2.1,.11],[2.2,.03],[2.7,.03],[2.9,.06],[3.2,.06],[3.7,.06],[4.2,.06],[4.6,.06],[5,.06],[5.6,.06],[6.1,.1],[6.6,.09],[7.1,.1],[7.6,.07],[3.1,.12],[3.6,.13],[4.1,.14],[4.7,.13],[5.3,.12],[5.8,.11],[6.2,.13],[3.7,.19],[4.1,.19],[4.7,.2],[5.4,.19],[6,.18],[4.1,.24],[4.6,.27],[5.2,.26],[5.5,.29],[3.9,.33],[4.5,.34],[5,.33],[5.5,.38],[8.6,.1],[9,.1],[8.7,.06],[9.5,.06],[11,.1],[12.3,.07],[13,.06],[14.7,.08],[15.3,.09],[16.5,.08],[17,.07],[17.6,.09],[18,.09],[18.2,.2],[17.5,.18],[17.9,.18],[16.9,.15],[19,.08]];

// ---- layout of the three groups ----
const DIV_TICKS = [0, 5, 10, 15, 20];
const RATIO_TICKS = [0, .2, .4, .6, .8, 1];
const RATIO_TICKS_LINE = [0, .5, 1, 1.5, 2];

const groups = [
  {
    title: "LTR-retrotransposons", titleAt: [263, 14], titleSize: 15.2,
    xLabel: [268, 517], yLabel: [11, 271.5], labelSize: 12.7, stripSize: 12.7, tickSize: 10.5, tick: 7, dot: 2.8,
    cols: [51, 268, 485], x0: 13, x20: 187.5, rows: [[51, 66.5, 263], [264, 279, 476]],
    yTop: 1, yTicks: RATIO_TICKS, yVal0: [252.7, 465.3], yValTop: [87.3, 300],
    panels: [
      {name: "LTR/Pao", r: 0, c: 0, data: ltrPao},
      {name: "LTR/Copia", r: 1, c: 0, data: ltrCopia},
      {name: "LTR/Gypsy", r: 1, c: 1, data: ltrGypsy}
    ],
    xTop: [[0, false]], xBottom: [[0, true], [1, false]],
    yLeft: [[0, false], [1, true]], yRight: [[0, true, 0], [1, false, 1]]
  },
  {
    title: "DNA transposons", titleAt: [901, 166], titleSize: 18.5,
    xLabel: [907, 773], yLabel: [598, 477], labelSize: 15.4, stripSize: 14.6, tickSize: 11.8, tick: 7, dot: 3,
    cols: [646.8, 777, 907, 1037.2, 1167.6], x0: 7.8, x20: 122.2, rows: [[214, 232.3, 383], [384, 402, 553], [554, 572.3, 723.3]],
    yTop: 1, yTicks: RATIO_TICKS, yVal0: [376, 546, 716], yValTop: [253, 423, 593],
    panels: [
      {name: "DNA/Tc1", r: 0, c: 0, data: dnaTc1},
      {name: "DNA/Transib", r: 0, c: 1, data: dnaTransib},
      {name: "DNA/NOF", r: 1, c: 0, data: dnaNOF},
      {name: "DNA/P", r: 1, c: 1, data: dnaP},
      {name: "DNA/PiggyBac", r: 1, c: 2, data: dnaPiggyBac},
      {name: "DNA/Pogo", r: 1, c: 3, data: dnaPogo},
      {name: "DNA/hAT", r: 2, c: 0, data: dnaHAT},
      {name: "DNA/Helitron", r: 2, c: 1, data: dnaHelitron},
      {name: "DNA/Mariner", r: 2, c: 2, data: dnaMariner},
      {name: "DNA/MuDR?", r: 2, c: 3, data: dnaMuDR}
    ],
    xTop: [[0, false], [1, true]], xBottom: [[0, true], [1, false], [2, true], [3, false]],
    yLeft: [[0, true], [1, false], [2, true]], yRight: [[0, false, 1], [1, true, 3], [2, false, 3]]
  },
  {
    title: "LINE-like elements", titleAt: [262, 556], titleSize: 15.2,
    xLabel: [267, 1061], yLabel: [11, 815], labelSize: 12.7, stripSize: 12.7, tickSize: 10.5, tick: 6.5, dot: 2.8,
    cols: [50, 194.7, 339.3, 484.7], x0: 8.7, x20: 136, rows: [[595.3, 610.7, 807.3], [807.3, 823.3, 1020]],
    yTop: 2, yTicks: RATIO_TICKS_LINE, yVal0: [796, 1008.7], yValTop: [632.7, 845.3],
    panels: [
      {name: "LINE/LOA", r: 0, c: 0, data: lineLOA},
      {name: "LINE/R1", r: 0, c: 1, data: lineR1},
      {name: "LINE/telomeric", r: 0, c: 2, data: lineTelomeric},
      {name: "LINE/CR1", r: 1, c: 0, data: lineCR1},
      {name: "LINE/I", r: 1, c: 1, data: lineI},
      {name: "LINE/Jockey", r: 1, c: 2, data: lineJockey}
    ],
    xTop: [[0, false], [1, true], [2, false]], xBottom: [[0, true], [1, false], [2, true]],
    yLeft: [[0, false], [1, true]], yRight: [[0, true, 2], [1, false, 2]]
  }
];

const svg = d3.select("#chart").append("svg").attr("width", 1200).attr("height", 1063);

function styleAxis(g, size) {
  g.select(".domain").remove();
  g.selectAll("line").attr("stroke", "#222");
  g.selectAll("text").style("font-size", size + "px").attr("fill", "#111");
}

function drawGroup(cfg) {
  const g = svg.append("g");

  function xScale(c) {
    return d3.scaleLinear().domain([0, 20]).range([cfg.cols[c] + cfg.x0, cfg.cols[c] + cfg.x20]);
  }
  function yScale(r) {
    return d3.scaleLinear().domain([0, cfg.yTop]).range([cfg.yVal0[r], cfg.yValTop[r]]);
  }

  cfg.panels.forEach(function(p) {
    const [top, stripBottom, bottom] = cfg.rows[p.r];
    const left = cfg.cols[p.c], right = cfg.cols[p.c + 1];
    const x = xScale(p.c), y = yScale(p.r);

    g.append("rect").attr("x", left).attr("y", top).attr("width", right - left).attr("height", stripBottom - top)
      .attr("fill", "#ffe5cc").attr("stroke", "#444");
    g.append("text").attr("x", (left + right) / 2).attr("y", (top + stripBottom) / 2)
      .attr("dy", "0.36em").attr("text-anchor", "middle").style("font-size", cfg.stripSize + "px").text(p.name);

    g.append("g").selectAll("circle").data(p.data).enter().append("circle")
      .attr("cx", d => x(d[0]))
      .attr("cy", d => y(d[1]))
      .attr("r", cfg.dot)
      .attr("fill", "#0080ff");

    g.append("rect").attr("x", left).attr("y", stripBottom).attr("width", right - left).attr("height", bottom - stripBottom)
      .attr("fill", "none").attr("stroke", "#444");
  });

  const fmt = d3.format(".1f");
  const noLabel = () => "";
  const lastRow = cfg.rows.length - 1;

  cfg.xTop.forEach(function([c, labelled]) {
    g.append("g").attr("transform", "translate(0," + cfg.rows[0][0] + ")")
      .call(d3.axisTop(xScale(c)).tickValues(DIV_TICKS).tickSizeOuter(0).tickSize(cfg.tick).tickPadding(5)
        .tickFormat(labelled ? d3.format("d") : noLabel))
      .call(styleAxis, cfg.tickSize);
  });
  cfg.xBottom.forEach(function([c, labelled]) {
    g.append("g").attr("transform", "translate(0," + cfg.rows[lastRow][2] + ")")
      .call(d3.axisBottom(xScale(c)).tickValues(DIV_TICKS).tickSizeOuter(0).tickSize(cfg.tick).tickPadding(5)
        .tickFormat(labelled ? d3.format("d") : noLabel))
      .call(styleAxis, cfg.tickSize);
  });
  cfg.yLeft.forEach(function([r, labelled]) {
    g.append("g").attr("transform", "translate(" + cfg.cols[0] + ",0)")
      .call(d3.axisLeft(yScale(r)).tickValues(cfg.yTicks).tickSizeOuter(0).tickSize(cfg.tick).tickPadding(6)
        .tickFormat(labelled ? fmt : noLabel))
      .call(styleAxis, cfg.tickSize);
  });
  cfg.yRight.forEach(function([r, labelled, c]) {
    g.append("g").attr("transform", "translate(" + cfg.cols[c + 1] + ",0)")
      .call(d3.axisRight(yScale(r)).tickValues(cfg.yTicks).tickSizeOuter(0).tickSize(cfg.tick).tickPadding(5)
        .tickFormat(labelled ? fmt : noLabel))
      .call(styleAxis, cfg.tickSize);
  });

  g.append("text").attr("x", cfg.titleAt[0]).attr("y", cfg.titleAt[1]).attr("text-anchor", "middle")
    .style("font-size", cfg.titleSize + "px").style("font-weight", "bold").text(cfg.title);
  g.append("text").attr("x", cfg.xLabel[0]).attr("y", cfg.xLabel[1]).attr("text-anchor", "middle")
    .style("font-size", cfg.labelSize + "px").text("DIVERGENCE");
  g.append("text").attr("text-anchor", "middle").style("font-size", cfg.labelSize + "px")
    .attr("transform", "translate(" + cfg.yLabel[0] + "," + cfg.yLabel[1] + ") rotate(-90)").text("RATIO");
}

groups.forEach(drawGroup);
</script>
</body>
</html>
